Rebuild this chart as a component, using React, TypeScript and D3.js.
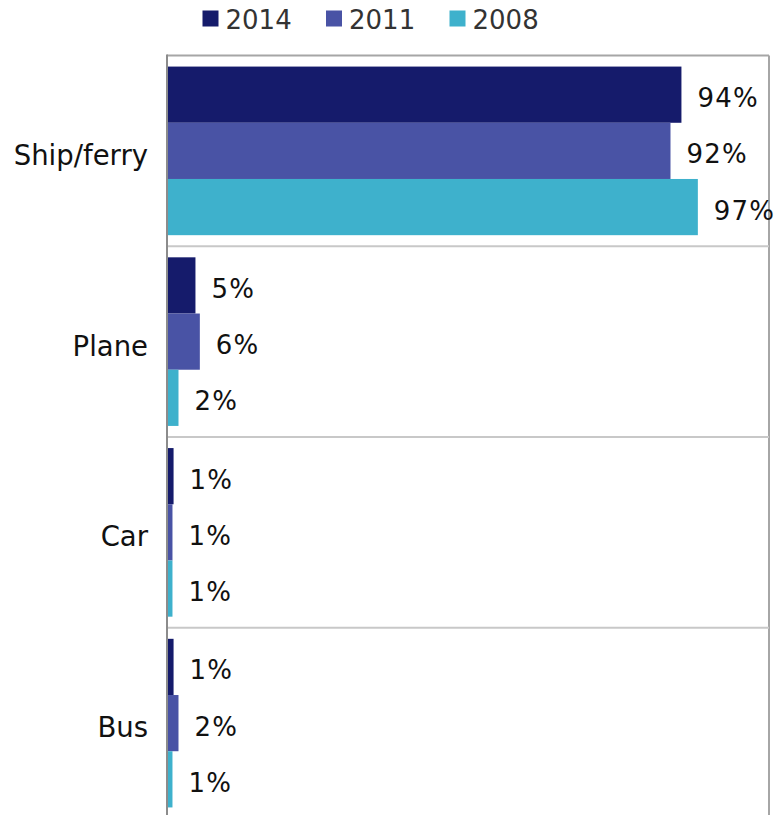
import React from "react";
import * as d3 from "d3";

const categories = ["Ship/ferry", "Plane", "Car", "Bus"];
const seriesNames = ["2014", "2011", "2008"];
const values2014 = [94, 5.2, 1.2, 1.2];
const values2011 = [92, 6.0, 1.0, 2.1];
const values2008 = [97, 2.1, 1.0, 1.0];
const seriesColors = ["#151B6B", "#4953A5", "#3EB1CC"];

const W = 774;
const H = 815;
const FONT = "'DejaVu Sans', Verdana, sans-serif";

export default function App() {
  const seriesValues = [values2014, values2011, values2008];
  const left = 167;
  const right = 769;
  const top = 55.5;
  const band = 190.75;
  const y = d3
    .scaleBand<string>()
    .domain(categories)
    .range([top, top + band * categories.length])
    .paddingInner(0)
    .paddingOuter(0);
  const ySub = d3
    .scaleBand<string>()
    .domain(seriesNames)
    .range([0, y.bandwidth()])
    .paddingInner(0)
    .paddingOuter(0.197);
  const x = d3.scaleLinear().domain([0, 110]).range([left, right]);

  const legendX = [202.5, 326, 449.5];

  return (
    <svg
      width={W}
      height={H}
      style={{ position: "absolute", left: 0, top: 0, background: "#fff" }}
      fontFamily={FONT}
    >
      {/* legend */}
      {seriesNames.map((s, i) => (
        <g key={s}>
          <rect x={legendX[i]} y={10.5} width={16} height={16} fill={seriesColors[i]} />
          <text x={legendX[i] + 23} y={28.5} fontSize={26} fill="#333">
            {s}
          </text>
        </g>
      ))}
      {/* frame */}
      <line x1={left} x2={right} y1={top} y2={top} stroke="#A6A6A6" strokeWidth={2} />
      <line x1={right} x2={right} y1={top} y2={H} stroke="#A6A6A6" strokeWidth={2} />
      {/* gridlines between categories */}
      {categories.slice(1).map((c) => (
        <line
          key={c}
          x1={left}
          x2={right}
          y1={y(c)!}
          y2={y(c)!}
          stroke="#C8C8C8"
          strokeWidth={2}
        />
      ))}
      {/* bars */}
      {categories.map((c, ci) =>
        seriesNames.map((s, si) => {
          const v = seriesValues[si][ci];
          const by = y(c)! + ySub(s)!;
          const bh = ySub.bandwidth();
          return (
            <g key={c + s}>
              <rect x={x(0)} y={by} width={x(v) - x(0)} height={bh} fill={seriesColors[si]} />
              <text
                x={x(v) + 16}
                y={by + bh / 2 + 12.5}
                fontSize={26}
                letterSpacing={1.2}
                fill="#111"
              >
                {Math.round(v) + "%"}
              </text>
            </g>
          );
        })
      )}
      {/* axis line */}
      <line x1={left} x2={left} y1={top - 1} y2={H} stroke="#8C8C8C" strokeWidth={2} />
      {/* category labels */}
      {categories.map((c) => (
        <text
          key={c}
          x={148}
          y={y(c)! + y.bandwidth() / 2 + 14}
          fontSize={27.5}
          textAnchor="end"
          fill="#111"
        >
          {c}
        </text>
      ))}
    </svg>
  );
}
